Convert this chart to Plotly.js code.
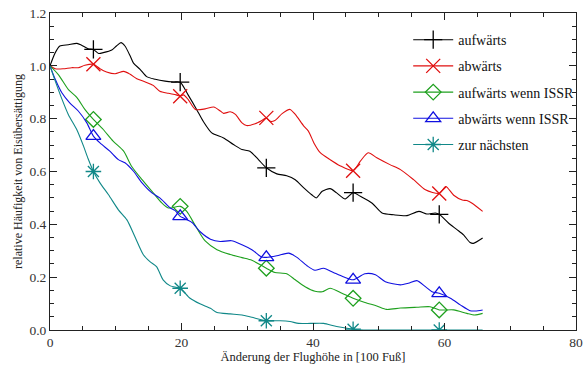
<!DOCTYPE html>
<html>
<head>
<meta charset="utf-8">
<script src="https://cdn.plot.ly/plotly-3.0.1.min.js"></script>
<style>html,body{margin:0;padding:0;background:#fff;}#chart{width:585px;height:365px;}</style>
</head>
<body>
<div id="chart"></div>
<script>
// Series names
const names = ["aufwärts", "abwärts", "aufwärts wenn ISSR", "abwärts wenn ISSR", "zur nächsten"];

// aufwärts
const upX = [0, 0.8, 1.5, 2.8, 4.1, 4.8, 5.8, 6.6, 7.4, 8.1, 9.4, 10.1, 10.8, 11.4, 12.2, 12.7, 13.7, 14.7, 16, 17.5, 18.8, 19.8, 21, 22.3, 23.3, 24.6, 26.4, 27.9, 29.2, 30.4, 31.7, 32.9, 34.5, 36, 37.3, 38.6, 39.8, 40.5, 41.4, 42.6, 43.6, 44.9, 46.1, 47.2, 49, 50.5, 52.3, 54.3, 56.1, 57.3, 58.6, 59.2, 60.6, 61.9, 62.9, 63.9, 64.4, 65.8];
const upY = [1.0, 1.05, 1.075, 1.08, 1.085, 1.078, 1.065, 1.062, 1.047, 1.05, 1.06, 1.075, 1.088, 1.075, 1.037, 1.01, 0.987, 0.959, 0.949, 0.942, 0.939, 0.938, 0.89, 0.835, 0.79, 0.746, 0.727, 0.702, 0.683, 0.677, 0.645, 0.614, 0.591, 0.584, 0.569, 0.538, 0.512, 0.5, 0.525, 0.535, 0.519, 0.496, 0.52, 0.506, 0.48, 0.443, 0.436, 0.433, 0.449, 0.439, 0.443, 0.438, 0.405, 0.38, 0.36, 0.331, 0.328, 0.348];
const upMarks = [7, 21, 31, 42, 51];

// abwärts
const downX = [0, 0.8, 2, 3.3, 4.3, 5.3, 6.6, 7.6, 8.6, 9.9, 11.2, 12.2, 13.2, 14.5, 15.7, 16.7, 18, 19.2, 19.8, 20.3, 21, 22.1, 23.6, 24.9, 25.9, 26.4, 27.4, 28.2, 29.2, 29.9, 31.2, 32.2, 32.9, 33.5, 34.2, 35.3, 36.5, 37.3, 38.6, 39.3, 40.2, 41.1, 42.6, 44.1, 46.1, 47.2, 48.4, 49.7, 51.7, 53.3, 55.3, 57.1, 59.2, 60.2, 61.4, 62.7, 63.4, 64.2, 65.8];
const downY = [1.0, 0.989, 0.989, 0.993, 0.993, 1.002, 1.006, 0.989, 0.977, 0.97, 0.979, 0.968, 0.951, 0.939, 0.926, 0.904, 0.896, 0.89, 0.885, 0.89, 0.873, 0.835, 0.837, 0.844, 0.829, 0.82, 0.826, 0.816, 0.784, 0.774, 0.781, 0.793, 0.803, 0.79, 0.793, 0.819, 0.835, 0.816, 0.772, 0.753, 0.705, 0.671, 0.645, 0.622, 0.603, 0.639, 0.671, 0.652, 0.626, 0.607, 0.569, 0.531, 0.517, 0.543, 0.51, 0.492, 0.49, 0.48, 0.449];
const downMarks = [6, 18, 32, 44, 52];

// aufwärts wenn ISSR
const upIssrX = [0, 1.3, 2.8, 4.1, 5.3, 6.6, 8.1, 9.6, 11.2, 12.4, 14, 15.7, 17, 18, 19.8, 20.8, 22.1, 23.6, 25.4, 27.4, 29.2, 30.7, 32.9, 34.2, 36, 37.3, 38.8, 40.3, 41.4, 42.6, 44.4, 46.1, 47.9, 49.7, 51.2, 53.3, 55.8, 57.8, 59.2, 61.4, 63.4, 64.6, 65.8];
const upIssrY = [1.0, 0.966, 0.91, 0.88, 0.835, 0.797, 0.759, 0.715, 0.677, 0.62, 0.569, 0.519, 0.481, 0.462, 0.468, 0.449, 0.395, 0.337, 0.304, 0.286, 0.274, 0.264, 0.234, 0.218, 0.213, 0.19, 0.164, 0.147, 0.145, 0.158, 0.139, 0.12, 0.104, 0.091, 0.078, 0.083, 0.086, 0.088, 0.076, 0.076, 0.063, 0.057, 0.063];
const upIssrMarks = [5, 14, 22, 31, 38];

// abwärts wenn ISSR
const downIssrX = [0, 0.8, 1.8, 3, 4.3, 5.6, 6.6, 7.6, 9.1, 10.4, 11.4, 12.7, 14, 15.5, 16.7, 18.3, 19, 19.8, 20.3, 21.6, 22.8, 24.4, 25.9, 27.6, 29.2, 30.7, 32.2, 32.9, 34.5, 36.3, 37.5, 39.1, 40.3, 41.6, 43.1, 44.6, 46.1, 47.9, 49.5, 51, 53.3, 54.5, 55.8, 57.1, 58.1, 59.2, 60.9, 62.4, 63.9, 64.7, 65.8];
const downIssrY = [1.0, 0.949, 0.898, 0.86, 0.829, 0.784, 0.734, 0.708, 0.677, 0.645, 0.633, 0.601, 0.557, 0.519, 0.5, 0.462, 0.453, 0.43, 0.424, 0.407, 0.373, 0.344, 0.335, 0.338, 0.323, 0.304, 0.276, 0.275, 0.281, 0.291, 0.276, 0.243, 0.226, 0.234, 0.218, 0.202, 0.19, 0.213, 0.209, 0.183, 0.171, 0.177, 0.187, 0.164, 0.145, 0.139, 0.12, 0.095, 0.073, 0.072, 0.076];
const downIssrMarks = [6, 17, 27, 36, 45];

// zur nächsten
const nextX = [0, 0.8, 1.8, 2.8, 4.1, 5.1, 5.8, 6.6, 7.6, 8.9, 10.4, 11.7, 12.9, 14.2, 15.2, 16.2, 17.2, 18.3, 19.8, 21.3, 22.8, 24.4, 25.4, 27.4, 29.2, 30.7, 32.9, 35, 36.5, 37.8, 39.6, 41.6, 43.6, 46.1, 48.4, 50, 55, 59.2, 62, 65.8];
const nextY = [1.0, 0.942, 0.875, 0.815, 0.757, 0.696, 0.648, 0.6, 0.557, 0.512, 0.455, 0.417, 0.354, 0.285, 0.259, 0.24, 0.19, 0.167, 0.158, 0.12, 0.099, 0.082, 0.066, 0.061, 0.057, 0.048, 0.035, 0.035, 0.032, 0.025, 0.025, 0.025, 0.013, 0.003, 0, 0, 0, 0, 0, 0];
const nextMarks = [7, 18, 26, 33, 37];

const xTickVals = [0, 20, 40, 60, 80];
const yTickVals = [0.0, 0.2, 0.4, 0.6, 0.8, 1.0, 1.2];

const colors = ["#000000", "#e01010", "#1ea01e", "#1010e0", "#108888"];
const symbols = ["cross-thin-open", "x-thin-open", "diamond-open", "triangle-up-open", "asterisk-open"];
const msizes = [13, 14, 12, 13, 13];

const series = [
  [upX, upY, upMarks],
  [downX, downY, downMarks],
  [upIssrX, upIssrY, upIssrMarks],
  [downIssrX, downIssrY, downIssrMarks],
  [nextX, nextY, nextMarks]
];

const traces = series.map(function (s, i) {
  return {
    x: s[0], y: s[1], name: names[i], type: "scatter", mode: "lines+markers",
    legendgroup: "g" + i,
    selectedpoints: s[2],
    selected: {marker: {opacity: 1}},
    unselected: {marker: {opacity: 0}},
    line: {color: colors[i], width: 1.1, shape: "spline", smoothing: 0.7},
    marker: {symbol: symbols[i], size: msizes[i], color: colors[i], line: {color: colors[i], width: 1.3}}
  };
});

const fontFam = "Liberation Serif, Times New Roman, serif";
const layout = {
  width: 585, height: 365,
  margin: {l: 50, r: 9, t: 13, b: 35, autoexpand: false},
  paper_bgcolor: "#fff", plot_bgcolor: "#fff",
  font: {family: fontFam, size: 13, color: "#222"},
  showlegend: true,
  legend: {
    x: 0.681, y: 0.965, xanchor: "left", yanchor: "top",
    bgcolor: "rgba(0,0,0,0)", borderwidth: 0,
    font: {family: fontFam, size: 14, color: "#111"},
    itemwidth: 40, tracegroupgap: 5,
    traceorder: "grouped"
  },
  xaxis: {
    range: [0, 80], tickvals: xTickVals, ticktext: xTickVals.map(String),
    ticks: "inside", ticklen: 7, tickwidth: 1, tickcolor: "#222",
    minor: {dtick: 5, ticks: "inside", ticklen: 4, tickcolor: "#222", tickwidth: 1},
    showline: true, linecolor: "#222", linewidth: 1, mirror: "allticks",
    showgrid: false, zeroline: false,
    tickfont: {family: fontFam, size: 13.5, color: "#333"},
    title: {text: "Änderung der Flughöhe in [100 Fuß]", font: {family: fontFam, size: 12.5, color: "#222"}, standoff: 2}
  },
  yaxis: {
    range: [0, 1.2], tickvals: yTickVals, ticktext: yTickVals.map(function (v) { return v.toFixed(1); }),
    ticks: "inside", ticklen: 7, tickwidth: 1, tickcolor: "#222",
    minor: {dtick: 0.05, ticks: "inside", ticklen: 4, tickcolor: "#222", tickwidth: 1},
    showline: true, linecolor: "#222", linewidth: 1, mirror: "allticks",
    showgrid: false, zeroline: false,
    tickfont: {family: fontFam, size: 13.5, color: "#333"},
    title: {text: "relative Häufigkeit von Eisübersättigung", font: {family: fontFam, size: 12, color: "#222"}, standoff: 4}
  }
};

Plotly.newPlot("chart", traces, layout, {staticPlot: true, displayModeBar: false});
</script>
</body>
</html>
